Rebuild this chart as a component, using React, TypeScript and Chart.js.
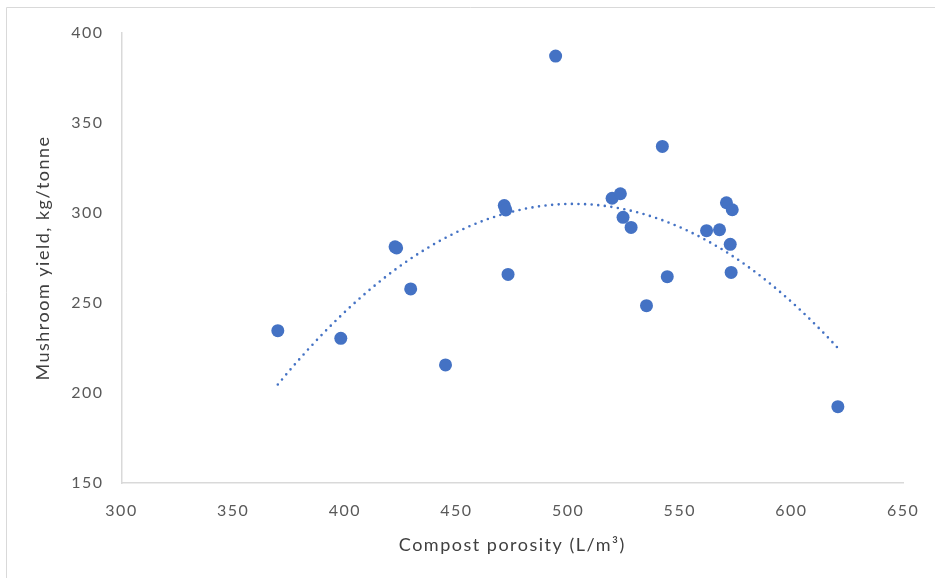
import React, { useEffect, useRef } from "react";
import { Chart, registerables } from "chart.js";

Chart.register(...registerables);

const porosity = [370, 398.2, 422.5, 423.2, 429.5, 445.1, 471.4, 472.1, 473.1, 494.4, 519.7, 523.4, 524.6, 528.2, 535.1, 542.2, 544.4, 562, 567.8, 570.9, 573.5, 572.6, 573.0, 620.8];
const yieldKg = [234.6, 230.4, 281.2, 280.6, 257.8, 215.6, 304.1, 301.7, 265.9, 387.2, 308.2, 310.7, 297.6, 292, 248.5, 337, 264.6, 290.2, 290.7, 305.7, 301.8, 282.6, 267, 192.4];

const xTitle = "Compost porosity (L/m\u00B3)";
const yTitle = "Mushroom yield, kg/tonne";

function quadFit(xs: number[], ys: number[]) {
  // least-squares polynomial (order 2) trendline, as the spreadsheet computes it
  let s0 = 0, s1 = 0, s2 = 0, s3 = 0, s4 = 0, t0 = 0, t1 = 0, t2 = 0;
  for (let i = 0; i < xs.length; i++) {
    const x = xs[i], y = ys[i];
    s0 += 1; s1 += x; s2 += x * x; s3 += x * x * x; s4 += x * x * x * x;
    t0 += y; t1 += x * y; t2 += x * x * y;
  }
  const M = [[s0, s1, s2, t0], [s1, s2, s3, t1], [s2, s3, s4, t2]];
  for (let c = 0; c < 3; c++) {
    for (let r = c + 1; r < 3; r++) {
      const f = M[r][c] / M[c][c];
      for (let k = c; k < 4; k++) M[r][k] -= f * M[c][k];
    }
  }
  const b = [0, 0, 0];
  for (let r = 2; r >= 0; r--) {
    let s = M[r][3];
    for (let k = r + 1; k < 3; k++) s -= M[r][k] * b[k];
    b[r] = s / M[r][r];
  }
  return b;
}

const borderPlugin = {
  id: "outerBorder",
  beforeDraw(chart: any) {
    const ctx = chart.ctx;
    ctx.save();
    ctx.strokeStyle = "#d9d9d9";
    ctx.lineWidth = 1;
    ctx.beginPath();
    ctx.moveTo(6.5, 578);
    ctx.lineTo(6.5, 7.5);
    ctx.lineTo(935, 7.5);
    ctx.stroke();
    ctx.restore();
    (ctx as any).letterSpacing = "1.5px";
  },
};

export default function App() {
  const ref = useRef<HTMLCanvasElement | null>(null);
  useEffect(() => {
    if (!ref.current) return;
    const b = quadFit(porosity, yieldKg);
    const xmin = Math.min(...porosity);
    const xmax = Math.max(...porosity);
    const trend: { x: number; y: number }[] = [];
    const n = 120;
    for (let i = 0; i <= n; i++) {
      const x = xmin + ((xmax - xmin) * i) / n;
      trend.push({ x, y: b[0] + b[1] * x + b[2] * x * x });
    }
    const font = "Lato, 'Open Sans', sans-serif";
    const chart = new Chart(ref.current, {
      type: "scatter",
      data: {
        datasets: [
          {
            label: "data",
            data: porosity.map((x, i) => ({ x, y: yieldKg[i] })),
            backgroundColor: "#4472C4",
            borderColor: "#4472C4",
            pointRadius: 6.5,
            pointHoverRadius: 6.5,
            borderWidth: 0,
            order: 1,
          },
          {
            label: "trend",
            type: "line",
            data: trend,
            borderColor: "#4472C4",
            borderWidth: 2.6,
            borderDash: [0, 6.6],
            borderCapStyle: "round",
            pointRadius: 0,
            fill: false,
            tension: 0,
            order: 0,
          } as any,
        ],
      },
      options: {
        animation: false,
        responsive: false,
        events: [],
        layout: { padding: { left: 0, top: 33, right: 30, bottom: 0 } },
        plugins: { legend: { display: false }, tooltip: { enabled: false } },
        scales: {
          x: {
            type: "linear",
            min: 300,
            max: 650,
            ticks: { stepSize: 50, color: "#595959", font: { family: font, size: 16 }, padding: 18 },
            grid: { display: false, drawTicks: false },
            border: { display: true, color: "#d9d9d9", width: 1.5 },
            title: { display: true, text: xTitle, color: "#404040", font: { family: font, size: 18 }, padding: { top: 0, bottom: 22 } },
            afterFit(scale: any) { scale.height = 95; },
          },
          y: {
            type: "linear",
            min: 150,
            max: 400,
            ticks: { stepSize: 50, color: "#595959", font: { family: font, size: 16 }, padding: 18 },
            grid: { display: false, drawTicks: false },
            border: { display: true, color: "#d9d9d9", width: 1.5 },
            title: { display: true, text: yTitle, color: "#404040", font: { family: font, size: 18 }, padding: { top: 32, bottom: 0 } },
            afterFit(scale: any) { scale.width = 121.5; },
          },
        },
      },
      plugins: [borderPlugin],
    });
    return () => chart.destroy();
  }, []);
  return (
    <div style={{ position: "absolute", left: 0, top: 0, width: 935, height: 578, background: "#fff" }}>
      <canvas ref={ref} width={935} height={578} style={{ display: "block", width: 935, height: 578 }} />
    </div>
  );
}
